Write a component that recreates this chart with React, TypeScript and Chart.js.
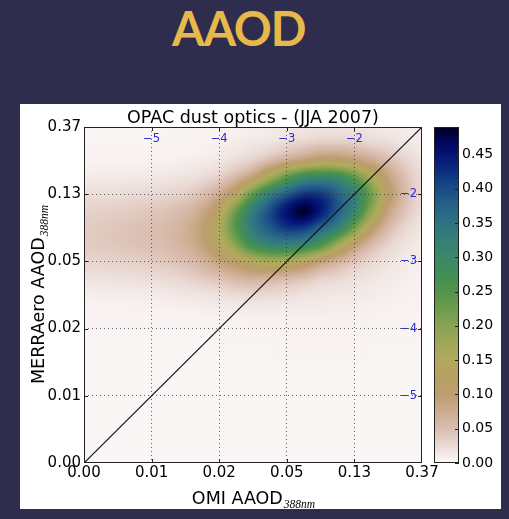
import React, { useEffect, useRef } from "react";
import { Chart, registerables } from "chart.js";

Chart.register(...registerables);

// ---------- data ----------
// grid nodes in ln(AAOD), shared by both axes (left->right, bottom->top)
const GRID_LN = [-6, -5.75, -5.5, -5.25, -5, -4.75, -4.5, -4.25, -4, -3.75, -3.5, -3.25, -3, -2.75, -2.5, -2.25, -2, -1.75, -1.5, -1.25, -1];

// normalised pixel density, rows from ln(MERRAero) = -1 (top) to -6 (bottom),
// columns from ln(OMI) = -6 (left) to -1 (right)
const DENSITY: number[][] = [
  [0.004, 0.004, 0.004, 0.004, 0.004, 0.005, 0.005, 0.006, 0.006, 0.008, 0.010, 0.012, 0.015, 0.016, 0.018, 0.018, 0.017, 0.015, 0.013, 0.011, 0.009],
  [0.005, 0.005, 0.005, 0.005, 0.005, 0.006, 0.006, 0.007, 0.009, 0.012, 0.016, 0.020, 0.028, 0.034, 0.040, 0.041, 0.038, 0.031, 0.025, 0.017, 0.012],
  [0.007, 0.007, 0.007, 0.007, 0.008, 0.008, 0.010, 0.012, 0.016, 0.024, 0.035, 0.055, 0.080, 0.103, 0.121, 0.120, 0.102, 0.078, 0.053, 0.032, 0.019],
  [0.012, 0.013, 0.013, 0.014, 0.015, 0.017, 0.020, 0.025, 0.036, 0.060, 0.099, 0.170, 0.244, 0.297, 0.309, 0.294, 0.241, 0.164, 0.091, 0.049, 0.025],
  [0.022, 0.023, 0.024, 0.026, 0.028, 0.031, 0.036, 0.050, 0.078, 0.136, 0.241, 0.328, 0.384, 0.420, 0.418, 0.377, 0.320, 0.222, 0.115, 0.054, 0.026],
  [0.033, 0.034, 0.036, 0.039, 0.042, 0.047, 0.057, 0.080, 0.130, 0.228, 0.331, 0.398, 0.453, 0.485, 0.445, 0.383, 0.309, 0.193, 0.091, 0.045, 0.023],
  [0.038, 0.040, 0.043, 0.046, 0.050, 0.056, 0.069, 0.097, 0.153, 0.251, 0.337, 0.385, 0.419, 0.417, 0.375, 0.319, 0.222, 0.118, 0.057, 0.029, 0.017],
  [0.038, 0.040, 0.043, 0.046, 0.049, 0.055, 0.067, 0.090, 0.134, 0.203, 0.278, 0.316, 0.324, 0.308, 0.260, 0.179, 0.104, 0.057, 0.032, 0.019, 0.013],
  [0.030, 0.031, 0.033, 0.035, 0.038, 0.043, 0.051, 0.066, 0.090, 0.120, 0.152, 0.169, 0.163, 0.135, 0.099, 0.069, 0.044, 0.029, 0.019, 0.013, 0.010],
  [0.019, 0.020, 0.021, 0.022, 0.024, 0.026, 0.031, 0.039, 0.048, 0.060, 0.069, 0.065, 0.058, 0.049, 0.034, 0.029, 0.022, 0.017, 0.013, 0.010, 0.008],
  [0.010, 0.011, 0.011, 0.012, 0.012, 0.014, 0.016, 0.018, 0.021, 0.025, 0.028, 0.026, 0.023, 0.019, 0.017, 0.015, 0.014, 0.012, 0.010, 0.008, 0.007],
  [0.006, 0.006, 0.006, 0.007, 0.007, 0.007, 0.008, 0.009, 0.010, 0.011, 0.012, 0.012, 0.011, 0.011, 0.011, 0.010, 0.010, 0.008, 0.007, 0.007, 0.006],
  [0.005, 0.005, 0.005, 0.005, 0.005, 0.005, 0.005, 0.005, 0.006, 0.006, 0.007, 0.007, 0.007, 0.007, 0.007, 0.007, 0.007, 0.007, 0.006, 0.006, 0.005],
  [0.004, 0.004, 0.004, 0.004, 0.004, 0.004, 0.004, 0.004, 0.005, 0.005, 0.005, 0.005, 0.006, 0.006, 0.006, 0.006, 0.006, 0.005, 0.005, 0.005, 0.005],
  [0.004, 0.004, 0.004, 0.004, 0.004, 0.004, 0.004, 0.004, 0.004, 0.004, 0.004, 0.005, 0.005, 0.005, 0.005, 0.005, 0.005, 0.005, 0.004, 0.004, 0.004],
  [0.004, 0.004, 0.004, 0.004, 0.004, 0.004, 0.004, 0.004, 0.004, 0.004, 0.004, 0.004, 0.004, 0.004, 0.004, 0.004, 0.004, 0.004, 0.004, 0.004, 0.004],
  [0.004, 0.004, 0.004, 0.004, 0.004, 0.004, 0.004, 0.004, 0.004, 0.004, 0.004, 0.004, 0.004, 0.004, 0.004, 0.004, 0.004, 0.004, 0.004, 0.004, 0.004],
  [0.004, 0.004, 0.004, 0.004, 0.004, 0.004, 0.004, 0.004, 0.004, 0.004, 0.004, 0.004, 0.004, 0.004, 0.004, 0.004, 0.004, 0.004, 0.004, 0.004, 0.004],
  [0.004, 0.004, 0.004, 0.004, 0.004, 0.004, 0.004, 0.004, 0.004, 0.004, 0.004, 0.004, 0.004, 0.004, 0.004, 0.004, 0.004, 0.004, 0.004, 0.004, 0.004],
  [0.004, 0.004, 0.004, 0.004, 0.004, 0.004, 0.004, 0.004, 0.004, 0.004, 0.004, 0.004, 0.004, 0.004, 0.004, 0.004, 0.004, 0.004, 0.004, 0.004, 0.004],
  [0.004, 0.004, 0.004, 0.004, 0.004, 0.004, 0.004, 0.004, 0.004, 0.004, 0.004, 0.004, 0.004, 0.004, 0.004, 0.004, 0.004, 0.004, 0.004, 0.004, 0.004],
];

const AXIS_MIN = -6;
const AXIS_MAX = -1;
const TICK_LN = [-6, -5, -4, -3, -2, -1];
const TICK_AOD_LABELS = ["0.00", "0.01", "0.02", "0.05", "0.13", "0.37"];
const LOG_TICKS = [-5, -4, -3, -2];
const LOG_TICK_LABELS = ["\u22125", "\u22124", "\u22123", "\u22122"];
const ONE_TO_ONE_X = [-6, -1];
const ONE_TO_ONE_Y = [-6, -1];
const CBAR_MAX = 0.49;
const CBAR_TICKS = [0, 0.05, 0.1, 0.15, 0.2, 0.25, 0.3, 0.35, 0.4, 0.45];

const TITLE = "OPAC dust optics - (JJA 2007)";
const X_LABEL = "OMI AAOD";
const Y_LABEL = "MERRAero AAOD";
const LABEL_SUB = "388nm";

// ---------- style ----------
const CMAP_POS = [0, 0.02, 0.05, 0.075, 0.1, 0.125, 0.15, 0.175, 0.2, 0.225, 0.25, 0.275, 0.3, 0.325, 0.35, 0.375, 0.4, 0.425, 0.45, 0.47, 0.49];
const CMAP_RGB = [
  [253, 251, 251], [238, 225, 221], [218, 190, 177], [205, 172, 143], [189, 158, 112],
  [183, 160, 100], [178, 170, 95], [160, 168, 88], [138, 163, 83], [110, 156, 78],
  [82, 148, 73], [66, 142, 88], [59, 136, 105], [53, 127, 120], [46, 116, 131],
  [38, 98, 136], [26, 76, 136], [12, 48, 128], [4, 20, 118], [1, 6, 90], [0, 0, 30],
];
const SANS = "'DejaVu Sans', sans-serif";
const BLUE = "#2a2ad0";

function cmap(v: number): number[] {
  if (v <= CMAP_POS[0]) return CMAP_RGB[0];
  const n = CMAP_POS.length;
  if (v >= CMAP_POS[n - 1]) return CMAP_RGB[n - 1];
  let i = 0;
  while (i < n - 2 && v > CMAP_POS[i + 1]) i++;
  const t = (v - CMAP_POS[i]) / (CMAP_POS[i + 1] - CMAP_POS[i]);
  const a = CMAP_RGB[i], b = CMAP_RGB[i + 1];
  return [a[0] + (b[0] - a[0]) * t, a[1] + (b[1] - a[1]) * t, a[2] + (b[2] - a[2]) * t];
}

function cr(p0: number, p1: number, p2: number, p3: number, t: number) {
  return p1 + 0.5 * t * (p2 - p0 + t * (2 * p0 - 5 * p1 + 4 * p2 - p3 + t * (3 * (p1 - p2) + p3 - p0)));
}

function sample(gx: number, gy: number) {
  const nR = DENSITY.length, nC = DENSITY[0].length;
  const i = Math.floor(gx), j = Math.floor(gy);
  const tx = gx - i, ty = gy - j;
  const cc = (k: number) => Math.max(0, Math.min(nC - 1, k));
  const rr = (k: number) => Math.max(0, Math.min(nR - 1, k));
  const col: number[] = [];
  for (let m = -1; m <= 2; m++) {
    const row = DENSITY[rr(j + m)];
    col.push(cr(row[cc(i - 1)], row[cc(i)], row[cc(i + 1)], row[cc(i + 2)], tx));
  }
  return Math.max(0, cr(col[0], col[1], col[2], col[3], ty));
}

const CB_OFFSET = 12;
const CB_WIDTH = 25;

const heatPlugin = {
  id: "heatmap",
  beforeDraw(chart: any) {
    const { ctx, chartArea, scales } = chart;
    const xs = scales.x, ys = scales.y, cb = scales.cb;
    const L = Math.round(chartArea.left), T = Math.round(chartArea.top);
    const W = Math.round(chartArea.right) - L, H = Math.round(chartArea.bottom) - T;
    const off = document.createElement("canvas");
    off.width = W; off.height = H;
    const octx = off.getContext("2d")!;
    const img = octx.createImageData(W, H);
    const d = img.data;
    const step = GRID_LN[1] - GRID_LN[0];
    const x0 = GRID_LN[0];
    const yTop = GRID_LN[GRID_LN.length - 1];
    const gxs: number[] = [];
    for (let px = 0; px < W; px++) gxs.push((xs.getValueForPixel(L + px + 0.5) - x0) / step);
    for (let py = 0; py < H; py++) {
      const gy = (yTop - ys.getValueForPixel(T + py + 0.5)) / step;
      for (let px = 0; px < W; px++) {
        const c = cmap(sample(gxs[px], gy));
        const k = (py * W + px) * 4;
        d[k] = c[0]; d[k + 1] = c[1]; d[k + 2] = c[2]; d[k + 3] = 255;
      }
    }
    octx.putImageData(img, 0, 0);
    ctx.save();
    ctx.drawImage(off, L, T);
    // colour bar
    const cx = Math.round(cb.left) + CB_OFFSET;
    for (let py = Math.round(cb.top); py < Math.round(cb.bottom); py++) {
      const c = cmap(cb.getValueForPixel(py + 0.5));
      ctx.fillStyle = `rgb(${c[0] | 0},${c[1] | 0},${c[2] | 0})`;
      ctx.fillRect(cx, py, CB_WIDTH, 1);
    }
    ctx.restore();
  },
  afterDraw(chart: any) {
    const { ctx, chartArea, scales } = chart;
    const xs = scales.x, ys = scales.y, cb = scales.cb;
    const L = Math.round(chartArea.left), T = Math.round(chartArea.top);
    const R = Math.round(chartArea.right), B = Math.round(chartArea.bottom);
    ctx.save();
    // frame
    ctx.strokeStyle = "#222";
    ctx.lineWidth = 1;
    ctx.setLineDash([]);
    ctx.strokeRect(L + 0.5, T + 0.5, R - L - 1, B - T - 1);
    // inner ticks
    ctx.beginPath();
    for (const v of LOG_TICKS) {
      const px = Math.round(xs.getPixelForValue(v)) + 0.5;
      ctx.moveTo(px, B); ctx.lineTo(px, B - 4);
      ctx.moveTo(px, T); ctx.lineTo(px, T + 4);
      const py = Math.round(ys.getPixelForValue(v)) + 0.5;
      ctx.moveTo(L, py); ctx.lineTo(L + 4, py);
      ctx.moveTo(R, py); ctx.lineTo(R - 4, py);
    }
    ctx.stroke();
    // blue ln labels (top and right, inside the axes)
    ctx.fillStyle = BLUE;
    ctx.font = `11.5px ${SANS}`;
    ctx.textAlign = "center";
    ctx.textBaseline = "top";
    LOG_TICKS.forEach((v, i) => ctx.fillText(LOG_TICK_LABELS[i], xs.getPixelForValue(v), T + 6));
    ctx.textAlign = "right";
    ctx.textBaseline = "middle";
    LOG_TICKS.forEach((v, i) => ctx.fillText(LOG_TICK_LABELS[i], R - 5, ys.getPixelForValue(v)));
    // colour bar border + ticks
    const cx = Math.round(cb.left) + CB_OFFSET;
    ctx.strokeStyle = "#222";
    ctx.strokeRect(cx + 0.5, Math.round(cb.top) + 0.5, CB_WIDTH - 1, Math.round(cb.bottom) - Math.round(cb.top) - 1);
    ctx.beginPath();
    for (const v of CBAR_TICKS) {
      const py = Math.round(cb.getPixelForValue(v)) + 0.5;
      ctx.moveTo(cx + CB_WIDTH, py); ctx.lineTo(cx + CB_WIDTH - 4, py);
    }
    ctx.stroke();
    // title
    ctx.fillStyle = "#000";
    ctx.textAlign = "center";
    ctx.textBaseline = "alphabetic";
    ctx.font = `17.5px ${SANS}`;
    const midX = (L + R) / 2, midY = (T + B) / 2;
    ctx.fillText(TITLE, midX, T - 4);
    // x label with subscript
    const mainFont = `17.5px ${SANS}`;
    const subFont = "italic 11.5px 'Liberation Serif', serif";
    ctx.font = mainFont;
    const w1 = ctx.measureText(X_LABEL).width;
    ctx.font = subFont;
    const w2 = ctx.measureText(LABEL_SUB).width;
    ctx.textAlign = "left";
    const sx = midX - (w1 + w2) / 2;
    ctx.font = mainFont; ctx.fillText(X_LABEL, sx, 400);
    ctx.font = subFont; ctx.fillText(LABEL_SUB, sx + w1 + 1, 404);
    // y label rotated
    ctx.font = mainFont;
    const w3 = ctx.measureText(Y_LABEL).width;
    ctx.save();
    ctx.translate(24, midY);
    ctx.rotate(-Math.PI / 2);
    const sy = -(w3 + w2) / 2;
    ctx.fillText(Y_LABEL, sy, 0);
    ctx.font = subFont; ctx.fillText(LABEL_SUB, sy + w3 + 1, 4);
    ctx.restore();
    ctx.restore();
  },
};

const noVPad = (s: any) => { s.paddingTop = 0; s.paddingBottom = 0; };

export default function App() {
  const ref = useRef<HTMLCanvasElement>(null);
  useEffect(() => {
    const gridColor = (c: any) =>
      c.tick && (c.tick.value === AXIS_MIN || c.tick.value === AXIS_MAX) ? "rgba(0,0,0,0)" : "rgba(40,40,40,0.7)";
    const chart = new Chart(ref.current!, {
      type: "scatter",
      data: {
        datasets: [
          {
            data: ONE_TO_ONE_X.map((x, i) => ({ x, y: ONE_TO_ONE_Y[i] })),
            showLine: true,
            borderColor: "#111",
            borderWidth: 1.2,
            pointRadius: 0,
            fill: false,
          },
        ],
      },
      options: {
        animation: false,
        responsive: false,
        devicePixelRatio: 1,
        layout: { autoPadding: false, padding: { top: 23, right: 0, bottom: 0, left: 0 } },
        plugins: { legend: { display: false }, tooltip: { enabled: false }, title: { display: false } },
        scales: {
          x: {
            type: "linear",
            position: "bottom",
            min: AXIS_MIN,
            max: AXIS_MAX,
            afterFit: (s: any) => { s.height = 46; s.paddingLeft = 0; s.paddingRight = 0; },
            afterBuildTicks: (s: any) => { s.ticks = TICK_LN.map((v) => ({ value: v })); },
            ticks: {
              callback: (_v: any, i: number) => TICK_AOD_LABELS[i],
              font: { family: SANS, size: 15 },
              color: "#000",
              padding: 1,
              maxRotation: 0,
              autoSkip: false,
            },
            grid: { color: gridColor, lineWidth: 1, drawTicks: false },
            border: { display: false, dash: [1, 3] },
          },
          y: {
            type: "linear",
            position: "left",
            min: AXIS_MIN,
            max: AXIS_MAX,
            afterFit: (s: any) => { s.width = 64; noVPad(s); },
            afterBuildTicks: (s: any) => { s.ticks = TICK_LN.map((v) => ({ value: v })); },
            ticks: {
              callback: (_v: any, i: number) => TICK_AOD_LABELS[i],
              font: { family: SANS, size: 15 },
              color: "#000",
              padding: 3,
              autoSkip: false,
            },
            grid: { color: gridColor, lineWidth: 1, drawTicks: false },
            border: { display: false, dash: [1, 3] },
          },
          cb: {
            type: "linear",
            position: "right",
            min: 0,
            max: CBAR_MAX,
            afterFit: (s: any) => { s.width = 79; noVPad(s); },
            afterBuildTicks: (s: any) => { s.ticks = CBAR_TICKS.map((v) => ({ value: v })); },
            ticks: {
              callback: (v: any) => Number(v).toFixed(2),
              font: { family: SANS, size: 14 },
              color: "#000",
              padding: 40,
              autoSkip: false,
            },
            grid: { display: false, drawTicks: false },
            border: { display: false },
          },
        },
      },
      plugins: [heatPlugin],
    } as any);
    return () => chart.destroy();
  }, []);

  return (
    <div style={{ position: "absolute", left: 0, top: 0, width: 509, height: 519, background: "#2f2d4e", overflow: "hidden" }}>
      <div style={{ position: "absolute", left: 172, top: 5, font: "700 47px Lato, sans-serif", lineHeight: "47px", letterSpacing: "-1.2px", color: "#e7b94a", whiteSpace: "nowrap" }}>
        AAOD
      </div>
      <div style={{ position: "absolute", left: 20, top: 104, width: 481, height: 405, background: "#fff" }}>
        <canvas ref={ref} width={481} height={405} style={{ display: "block", width: 481, height: 405 }} />
      </div>
    </div>
  );
}
